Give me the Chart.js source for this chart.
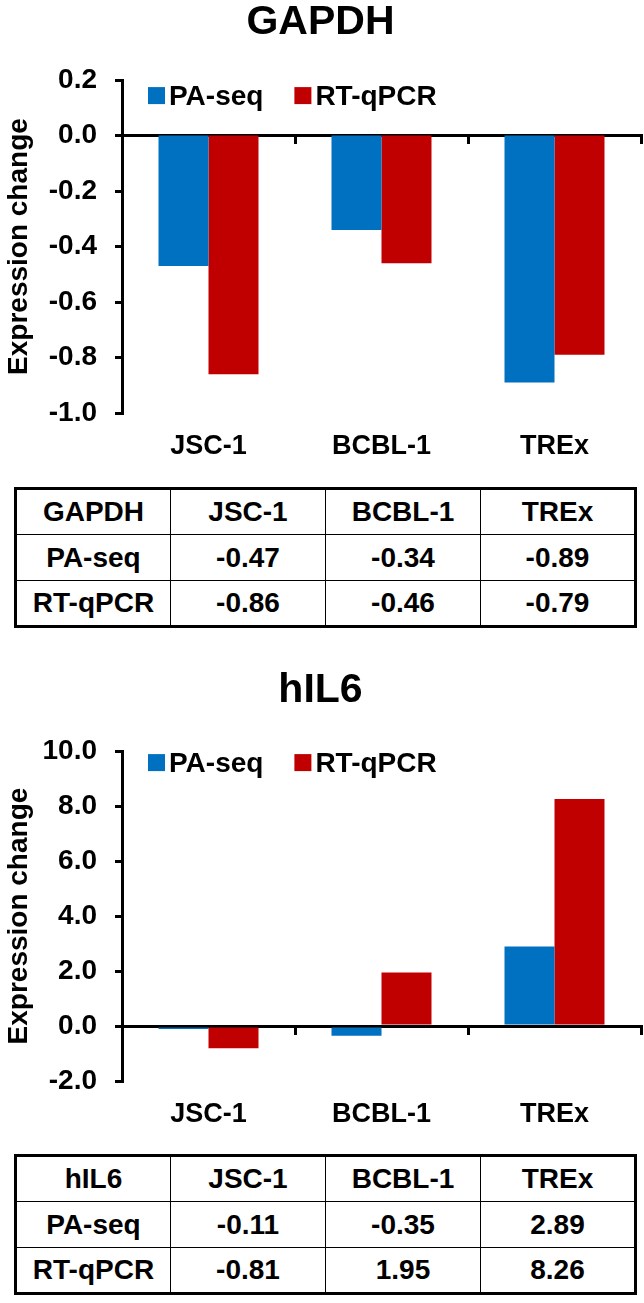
<!DOCTYPE html>
<html>
<head>
<meta charset="utf-8">
<script src="https://cdn.jsdelivr.net/npm/chart.js@4.4.1/dist/chart.umd.min.js"></script>
<style>
    body { margin: 0; background: #fff; font-family: "Liberation Sans", Arial, sans-serif; }
    .wrap { position: relative; width: 644px; height: 1303px; overflow: hidden; }
    canvas { position: absolute; left: 0; }
    table { position: absolute; left: 14px; width: 623px; border-collapse: collapse; border: 3px solid #000; table-layout: fixed; }
    tr { height: 46px; }
    td { border: 1px solid #000; padding: 0; text-align: center; font-weight: bold; font-size: 28px; color: #000; }
</style>
</head>
<body>
<div class="wrap">
    <canvas id="gapdhChart" width="644" height="470" style="top:0px"></canvas>
    <table id="gapdhTable" style="top:487px"></table>
    <canvas id="il6Chart" width="644" height="470" style="top:668px"></canvas>
    <table id="il6Table" style="top:1154px"></table>
</div>
<script>
const categories = ['JSC-1', 'BCBL-1', 'TREx'];
const seriesNames = ['PA-seq', 'RT-qPCR'];

const gapdhPaSeq = [-0.47, -0.34, -0.89];
const gapdhRtqpcr = [-0.86, -0.46, -0.79];
const il6PaSeq = [-0.11, -0.35, 2.89];
const il6Rtqpcr = [-0.81, 1.95, 8.26];

// y axis ranges: min, max, step
const gapdhTicks = [-1.0, 0.2, 0.2];
const il6Ticks = [-2.0, 10.0, 2.0];

const FONT = '"Liberation Sans", Arial, sans-serif';
const BLUE = '#0070C0';
const RED = '#C00000';

// leyenda dentro del area del grafico
const boxLegend = {
    id: 'boxLegend',
    afterDatasetsDraw(chart, args, opts) {
        const { ctx, chartArea } = chart;
        let x = chartArea.left + opts.left;
        const y = chartArea.top + opts.top;
        ctx.save();
        ctx.font = 'bold 28px ' + FONT;
        ctx.textBaseline = 'middle';
        chart.data.datasets.forEach(ds => {
            ctx.fillStyle = ds.backgroundColor;
            ctx.fillRect(x, y, 17, 17);
            ctx.fillStyle = '#000';
            ctx.fillText(ds.label, x + 21, y + 10);
            x += 21 + ctx.measureText(ds.label).width + 31;
        });
        ctx.restore();
    }
};

function makeChart(id, title, pa, rt, ticks, titlePad, legendTop) {
    const canvas = document.getElementById(id);
    const h = canvas.height;
    return new Chart(canvas, {
        type: 'bar',
        data: {
            labels: categories,
            datasets: [
                { label: seriesNames[0], data: pa, backgroundColor: BLUE, xAxisID: 'x', yAxisID: 'y' },
                { label: seriesNames[1], data: rt, backgroundColor: RED, xAxisID: 'x', yAxisID: 'y' }
            ]
        },
        options: {
            responsive: false,
            animation: false,
            layout: { padding: { left: 0, right: 3, top: 0, bottom: 0 } },
            datasets: { bar: { categoryPercentage: 0.578, barPercentage: 1.0 } },
            plugins: {
                legend: { display: false },
                tooltip: { enabled: false },
                title: {
                    display: true, text: title, color: '#000',
                    font: { family: FONT, size: 41, weight: 'bold', lineHeight: 1.1 },
                    padding: { top: 0, bottom: titlePad }
                },
                boxLegend: { left: 26, top: legendTop }
            },
            scales: {
                x: {
                    type: 'category', position: 'bottom', offset: true,
                    grid: { display: false, drawTicks: false },
                    border: { display: false },
                    ticks: { color: '#000', padding: 17, maxRotation: 0, font: { family: FONT, size: 27, weight: 'bold' } },
                    afterFit: s => { s.height = h - 413; }
                },
                x0: {
                    type: 'category', axis: 'x', labels: categories, position: { y: 0 }, offset: true,
                    grid: { offset: true, drawOnChartArea: false, drawTicks: true, tickLength: 7, color: '#000', lineWidth: 3 },
                    border: { display: true, color: '#000', width: 3 },
                    ticks: { display: false }
                },
                y: {
                    min: ticks[0], max: ticks[1],
                    ticks: {
                        stepSize: ticks[2], color: '#000', padding: 18,
                        font: { family: FONT, size: 28, weight: 'bold' },
                        callback: v => (Math.abs(v) < 1e-9 ? 0 : v).toFixed(1)
                    },
                    grid: { drawOnChartArea: false, drawTicks: true, tickLength: 7, color: '#000', lineWidth: 3 },
                    border: { display: true, color: '#000', width: 3 },
                    title: {
                        display: true, text: 'Expression change', color: '#000',
                        font: { family: FONT, size: 28, weight: 'bold' },
                        padding: { top: 2, bottom: 0 }
                    },
                    afterFit: s => { s.width = 122; }
                }
            }
        },
        plugins: [boxLegend]
    });
}

function fillTable(id, gene, pa, rt) {
    const table = document.getElementById(id);
    const rows = [
        [gene].concat(categories),
        [seriesNames[0]].concat(pa.map(v => v.toFixed(2))),
        [seriesNames[1]].concat(rt.map(v => v.toFixed(2)))
    ];
    table.innerHTML = rows.map(r => '<tr>' + r.map(c => `<td>${c}</td>`).join('') + '</tr>').join('');
}

makeChart('gapdhChart', 'GAPDH', gapdhPaSeq, gapdhRtqpcr, gapdhTicks, 35, 7);
makeChart('il6Chart', 'hIL6', il6PaSeq, il6Rtqpcr, il6Ticks, 38, 3);
fillTable('gapdhTable', 'GAPDH', gapdhPaSeq, gapdhRtqpcr);
fillTable('il6Table', 'hIL6', il6PaSeq, il6Rtqpcr);
</script>
</body>
</html>
